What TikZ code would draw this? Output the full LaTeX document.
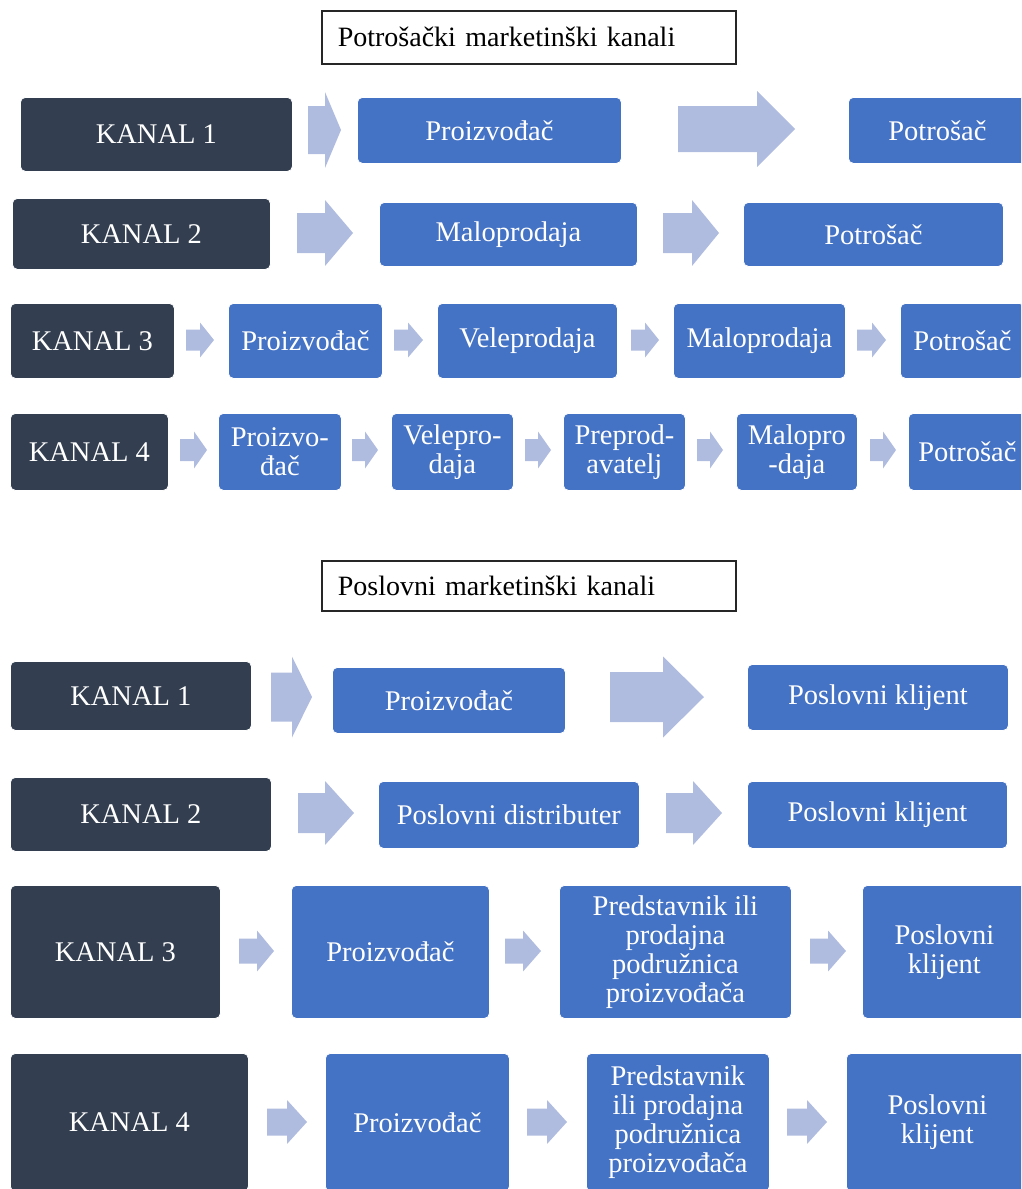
\documentclass[tikz,border=0pt]{standalone}
\usepackage{fontspec}
\setmainfont{Liberation Serif}
\definecolor{darkbox}{HTML}{333F50}
\definecolor{bluebox}{HTML}{4472C4}
\definecolor{arrowcol}{HTML}{AFBCDF}
\tikzset{
  kanal/.style={fill=darkbox, draw=white, line width=0.8pt, rounded corners=5pt, text=white, align=center, inner sep=2pt, font=\fontsize{28.5}{29}\selectfont},
  stage/.style={fill=bluebox, draw=white, line width=0.8pt, rounded corners=5pt, text=white, align=center, inner sep=2pt, font=\fontsize{28.5}{29}\selectfont},
  titlebox/.style={draw=black!85, line width=1.6pt, fill=white, align=left, inner xsep=16pt, inner ysep=0pt, font=\fontsize{28}{30}\selectfont},
  blockarrow/.style={fill=arrowcol}
}
\newcommand\bx[7]{%
  \pgfmathsetmacro\myw{#5-#3}\pgfmathsetmacro\myh{#6-#4}%
  \node[#1, minimum width=\myw pt, minimum height=\myh pt, anchor=north west] (#2) at (#3,#4) {#7};}
\newcommand\barrow[6]{% x0, xhead, xtip, cy, shaft half height, head half height
  \fill[blockarrow] (#1,#4-#5) -- (#2,#4-#5) -- (#2,#4-#6) -- (#3,#4) -- (#2,#4+#6) -- (#2,#4+#5) -- (#1,#4+#5) -- cycle;}
\begin{document}
\begin{tikzpicture}[x=1pt, y=-1pt]
\useasboundingbox (0,0) rectangle (1021,1189);
\clip (0,0) rectangle (1021,1189);
% ---------- consumer ----------
\pgfmathsetmacro\tw{414-32}
\node[titlebox, minimum width=414pt, minimum height=53pt, text width=\tw pt, anchor=north west] (t1) at (321,10) {Potrošački marketinški kanali};
% row 1
\bx{kanal}{ck1}{20}{97}{292}{171}{KANAL 1}
\barrow{308}{325}{341}{130}{24}{38}
\bx{stage}{c1a}{357}{97}{621}{163}{Proizvođač}
\barrow{678}{757}{795}{129}{23}{38}
\bx{stage}{c1b}{848}{97}{1026}{163}{Potrošač}
% row 2
\bx{kanal}{ck2}{12}{198}{270}{269}{KANAL 2}
\barrow{297}{325}{353}{233}{20}{33}
\bx{stage}{c2a}{379}{202}{637}{266}{Maloprodaja}
\barrow{663}{692}{719}{233}{20}{33}
\bx{stage}{c2b}{743}{202}{1003}{266}{Potrošač}
% row 3
\bx{kanal}{ck3}{10}{303}{174}{378}{KANAL 3}
\barrow{186}{200}{214}{340}{10.5}{17.5}
\bx{stage}{c3a}{228}{303}{382}{378}{Proizvođač}
\barrow{394}{408}{423}{340}{10.5}{17.5}
\bx{stage}{c3b}{437}{303}{617}{378}{Veleprodaja}
\barrow{631}{645}{659}{340}{10.5}{17.5}
\bx{stage}{c3c}{673}{303}{845}{378}{Maloprodaja}
\barrow{857}{872}{886}{340}{10.5}{17.5}
\bx{stage}{c3d}{900}{303}{1024}{378}{Potrošač}
% row 4
\bx{kanal}{ck4}{10}{413}{168}{490}{KANAL 4}
\barrow{180}{194}{207}{450}{11}{18.5}
\bx{stage}{c4a}{218}{413}{341}{490}{Proizvo-\\đač}
\barrow{352}{365}{378}{450}{11}{18.5}
\bx{stage}{c4b}{391}{413}{513}{490}{Velepro-\\daja}
\barrow{525}{538}{551}{450}{11}{18.5}
\bx{stage}{c4c}{563}{413}{685}{490}{Preprod-\\avatelj}
\barrow{697}{710}{723}{450}{11}{18.5}
\bx{stage}{c4d}{736}{413}{857}{490}{Malopro\\-daja}
\barrow{870}{883}{896}{450}{11}{18.5}
\bx{stage}{c4e}{908}{413}{1026}{490}{Potrošač}
% ---------- business ----------
\node[titlebox, minimum width=414pt, minimum height=50pt, text width=\tw pt, anchor=north west] (t2) at (321,560) {Poslovni marketinški kanali};
% row 1
\bx{kanal}{bk1}{10}{661}{251}{730}{KANAL 1}
\barrow{271}{292}{312}{697}{24.5}{40.5}
\bx{stage}{b1a}{332}{667}{565}{733}{Proizvođač}
\barrow{610}{663}{704}{697}{25}{40.5}
\bx{stage}{b1b}{747}{664}{1008}{730}{Poslovni klijent}
% row 2
\bx{kanal}{bk2}{10}{777}{271}{851}{KANAL 2}
\barrow{298}{325}{354}{813}{20}{32}
\bx{stage}{b2a}{378}{781}{639}{848}{Poslovni distributer}
\barrow{666}{693}{722}{813}{20}{32}
\bx{stage}{b2b}{747}{781}{1007}{848}{Poslovni klijent}
% row 3
\bx{kanal}{bk3}{10}{885}{220}{1018}{KANAL 3}
\barrow{239}{257}{274}{951}{12.5}{20.5}
\bx{stage}{b3a}{291}{885}{489}{1018}{Proizvođač}
\barrow{505}{523}{541}{951}{12.5}{20.5}
\bx{stage}{b3b}{559}{885}{791}{1018}{Predstavnik ili\\prodajna\\podružnica\\proizvođača}
\barrow{810}{828}{846}{951}{12.5}{20.5}
\bx{stage}{b3c}{862}{885}{1026}{1018}{Poslovni\\klijent}
% row 4
\bx{kanal}{bk4}{10}{1053}{248}{1191}{KANAL 4}
\barrow{267}{287}{307}{1122}{13.5}{22}
\bx{stage}{b4a}{325}{1053}{509}{1191}{Proizvođač}
\barrow{527}{547}{567}{1122}{13.5}{22}
\bx{stage}{b4b}{586}{1053}{769}{1191}{Predstavnik\\ili prodajna\\podružnica\\proizvođača}
\barrow{787}{807}{827}{1122}{13.5}{22}
\bx{stage}{b4c}{846}{1053}{1028}{1191}{Poslovni\\klijent}
\end{tikzpicture}
\end{document}
